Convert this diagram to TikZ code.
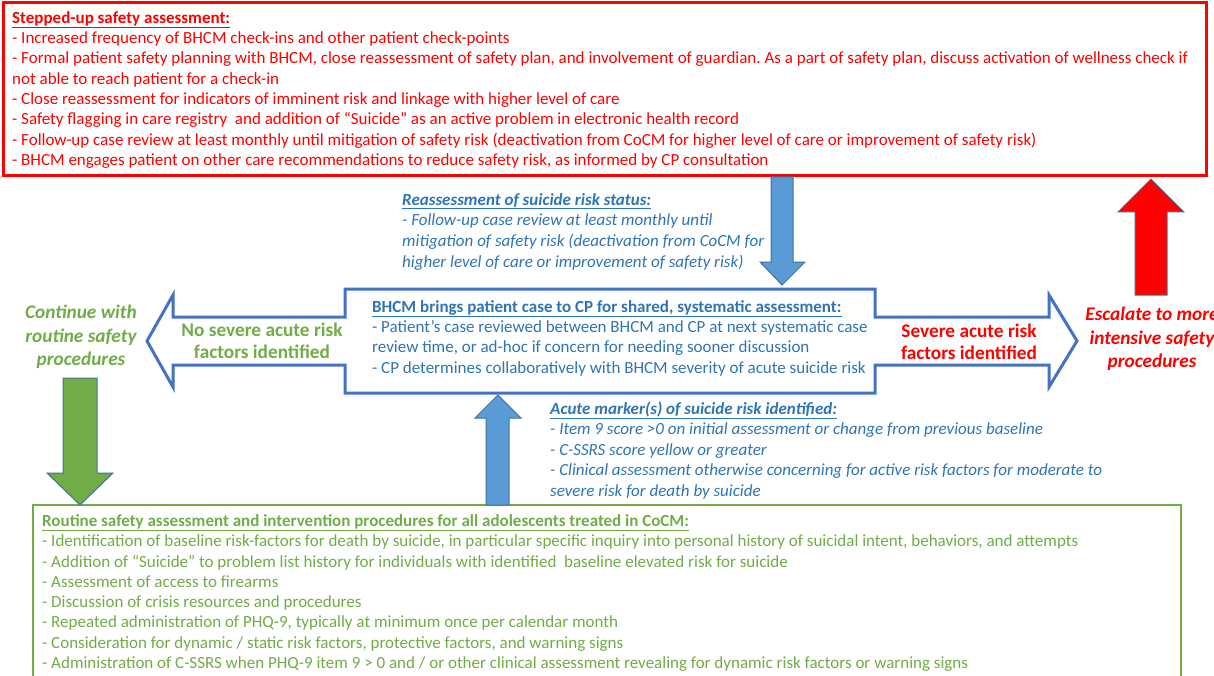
\documentclass[tikz,border=0pt]{standalone}
\usepackage{fontspec}
\setmainfont{Carlito}
\frenchspacing
\definecolor{cred}{HTML}{FF0000}
\definecolor{cblue}{HTML}{4472C4}
\definecolor{tblue}{HTML}{2E75B6}
\definecolor{afill}{HTML}{5B9BD5}
\definecolor{aline}{HTML}{41719C}
\definecolor{cgreen}{HTML}{70AD47}
\begin{document}
\begin{tikzpicture}[x=1pt,y=-1pt,
  txt/.style={anchor=base west, inner sep=0, align=left, font=\fontsize{17}{20.3}\selectfont},
  big/.style={inner sep=0, align=center, font=\fontsize{19.3}{22.5}\selectfont\bfseries},
  blockarrow/.style={line width=1pt}]
\useasboundingbox (0,0) rectangle (1214,676);
\fill[white] (0,0) rectangle (1214,676);

% top red box
\draw[cred, line width=3pt] (3,3) rectangle (1206,176);
\node[txt, text=cred] (toptxt) at (12,165.5) {\underline{\textbf{Stepped-up safety assessment:}}\\
- Increased frequency of BHCM check-ins and other patient check-points\\
- Formal patient safety planning with BHCM, close reassessment of safety plan, and involvement of guardian. As a part of safety plan, discuss activation of wellness check if\\
not able to reach patient for a check-in\\
- Close reassessment for indicators of imminent risk and linkage with higher level of care\\
- Safety flagging in care registry\ \ and addition of “Suicide” as an active problem in electronic health record\\
- Follow-up case review at least monthly until mitigation of safety risk (deactivation from CoCM for higher level of care or improvement of safety risk)\\
- BHCM engages patient on other care recommendations to reduce safety risk, as informed by CP consultation};

% center double arrow box
\draw[cblue, line width=3pt, fill=white, line join=miter]
  (345,289) -- (875,289) -- (875,317) -- (1049,317) -- (1049,295) -- (1077,341)
  -- (1049,387) -- (1049,365) -- (875,365) -- (875,393) -- (345,393) -- (345,365)
  -- (173,365) -- (173,387) -- (147,341) -- (173,295) -- (173,317) -- (345,317) -- cycle;
\node[txt, text=tblue] (center) at (372,373) {\underline{\textbf{BHCM brings patient case to CP for shared, systematic assessment:}}\\
- Patient’s case reviewed between BHCM and CP at next systematic case\\
review time, or ad-hoc if concern for needing sooner discussion\\
- CP determines collaboratively with BHCM severity of acute suicide risk};

\node[big, text=cgreen] (nosev) at (262,341) {No severe acute risk\\factors identified};
\node[big, text=cred] (sev) at (969,342) {Severe acute risk\\factors identified};

\node[big, text=cgreen, font=\fontsize{19.3}{23.5}\selectfont\bfseries\itshape] (cont) at (81,337) {Continue with\\routine safety\\procedures};
\node[big, text=cred, font=\fontsize{19.3}{23.5}\selectfont\bfseries\itshape] (esc) at (1152,339) {Escalate to more\\intensive safety\\procedures};

% reassessment text
\node[txt, text=tblue, font=\fontsize{17}{20.8}\selectfont\itshape] (reass) at (402,267.5) {\underline{\textbf{Reassessment of suicide risk status:}}\\
- Follow-up case review at least monthly until\\
mitigation of safety risk (deactivation from CoCM for\\
higher level of care or improvement of safety risk)};

% acute markers text
\node[txt, text=tblue, font=\fontsize{17}{20.4}\selectfont\itshape] (acute) at (550,496) {\underline{\textbf{Acute marker(s) of suicide risk identified:}}\\
- Item 9 score >0 on initial assessment or change from previous baseline\\
- C-SSRS score yellow or greater\\
- Clinical assessment otherwise concerning for active risk factors for moderate to\\
severe risk for death by suicide};

% bottom green box
\draw[cgreen, line width=2.5pt] (33,505) rectangle (1181,700);
\node[txt, text=cgreen] (bot) at (42,668.5) {\underline{\textbf{Routine safety assessment and intervention procedures for all adolescents treated in CoCM:}}\\
- Identification of baseline risk-factors for death by suicide, in particular specific inquiry into personal history of suicidal intent, behaviors, and attempts\\
- Addition of “Suicide” to problem list history for individuals with identified\ \ baseline elevated risk for suicide\\
- Assessment of access to firearms\\
- Discussion of crisis resources and procedures\\
- Repeated administration of PHQ-9, typically at minimum once per calendar month\\
- Consideration for dynamic / static risk factors, protective factors, and warning signs\\
- Administration of C-SSRS when PHQ-9 item 9 > 0 and / or other clinical assessment revealing for dynamic risk factors or warning signs};

% block arrows
% blue down (reassessment)
\draw[blockarrow, aline, fill=afill] (771,177) -- (793,177) -- (793,262) -- (805,262) -- (782,285) -- (760,262) -- (771,262) -- cycle;
% blue up (acute markers)
\draw[blockarrow, aline, fill=afill] (486,505) -- (486,418) -- (475,418) -- (498,395) -- (521,418) -- (509,418) -- (509,505) -- cycle;
% green down
\draw[blockarrow, aline, fill=cgreen] (63,378) -- (97,378) -- (97,473) -- (113,473) -- (80,505) -- (47,473) -- (63,473) -- cycle;
% red up
\draw[blockarrow, aline, fill=cred] (1135,295) -- (1135,212) -- (1118,212) -- (1151,179) -- (1184,212) -- (1167,212) -- (1167,295) -- cycle;
\end{tikzpicture}
\end{document}
